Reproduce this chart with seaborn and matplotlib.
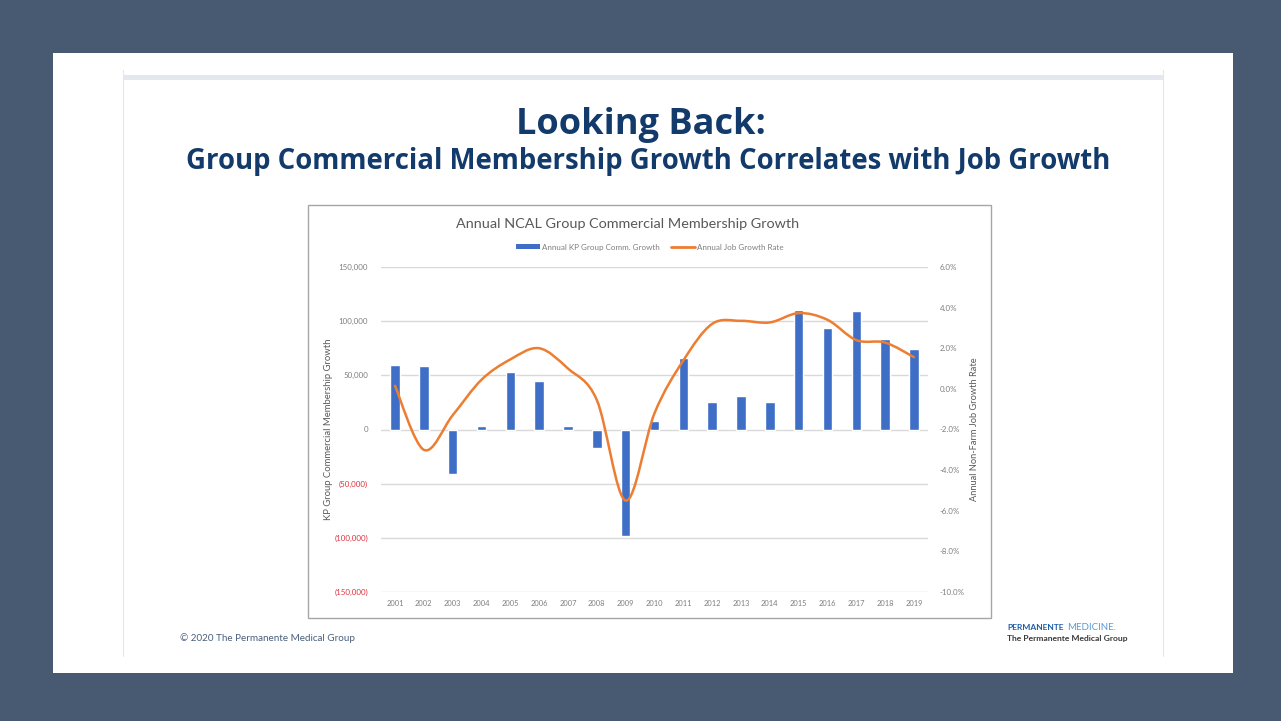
import numpy as np
import pandas as pd
import matplotlib
matplotlib.use("Agg")
import matplotlib.pyplot as plt
import matplotlib.patches as mpatches
import matplotlib.path as mpath
from matplotlib.lines import Line2D
import seaborn as sns

# ---------------- data ----------------
years = ["2001", "2002", "2003", "2004", "2005", "2006", "2007", "2008", "2009", "2010",
         "2011", "2012", "2013", "2014", "2015", "2016", "2017", "2018", "2019"]
membership_growth = [60000, 58500, -41000, 3500, 53000, 45000, 3500, -17000, -98000, 8000,
                     66000, 25800, 30700, 25000, 110000, 94000, 109000, 84000, 74500]
job_growth_rate = [0.15, -3.0, -1.3, 0.45, 1.45, 2.0, 1.0, -0.55, -5.5, -1.2,
                   1.4, 3.2, 3.35, 3.27, 3.73, 3.4, 2.4, 2.28, 1.56]
left_ticks = [150000, 100000, 50000, 0, -50000, -100000, -150000]
right_ticks = [6, 4, 2, 0, -2, -4, -6, -8, -10]

BAR_COLOR = "#3f6ec6"
LINE_COLOR = "#ed7d31"
NAVY = "#123a6b"

df = pd.DataFrame({"year": years, "growth": membership_growth, "rate": job_growth_rate})

sns.set_theme(style="white")
plt.rcParams["font.family"] = ["Lato", "DejaVu Sans"]

W, H = 1281, 721
fig = plt.figure(figsize=(W / 100, H / 100), dpi=100)
fig.patch.set_facecolor("#475a72")

def fx(px):
    return px / W

def fy(py):
    return 1 - py / H

# white slide
fig.patches.append(mpatches.Rectangle((fx(53), fy(673)), fx(1233) - fx(53), fy(53) - fy(673),
                                      transform=fig.transFigure, facecolor="white",
                                      edgecolor="none", zorder=0))
# top thin band and faint side lines
fig.patches.append(mpatches.Rectangle((fx(123), fy(80)), fx(1163) - fx(123), fy(75) - fy(80),
                                      transform=fig.transFigure, facecolor="#e4e7ee",
                                      edgecolor="none", zorder=1))
for xx in (123, 1163):
    fig.lines.append(Line2D([fx(xx), fx(xx)], [fy(70), fy(656)], transform=fig.transFigure,
                            color="#e6e6e6", lw=0.8, zorder=1))

# chart box
fig.patches.append(mpatches.Rectangle((fx(308), fy(618)), fx(991) - fx(308), fy(205) - fy(618),
                                      transform=fig.transFigure, facecolor="white",
                                      edgecolor="#a6a6a6", lw=1.0, zorder=1))

# titles
fig.text(fx(641), fy(125), "Looking Back:", ha="center", va="center", fontsize=26,
         fontweight="bold", color=NAVY, family=["Open Sans", "DejaVu Sans"])
fig.text(fx(648), fy(161), "Group Commercial Membership Growth Correlates with Job Growth",
         ha="center", va="center", fontsize=19.8, fontweight="bold", color=NAVY,
         family=["Open Sans", "DejaVu Sans"])

# axes
ax = fig.add_axes([fx(380.6), fy(592), fx(928.4) - fx(380.6), fy(267) - fy(592)])
ax.set_zorder(2)
ax.patch.set_alpha(0)
sns.barplot(data=df, x="year", y="growth", color=BAR_COLOR, width=0.33, ax=ax,
            saturation=1, zorder=3)
ax.set_xlim(-0.5, len(years) - 0.5)
ax.set_ylim(-150000, 150000)
ax.set_yticks(left_ticks)

def fmt_left(v):
    if v < 0:
        return "({:,})".format(int(-v))
    return "{:,}".format(int(v))

ax.set_yticklabels([fmt_left(v) for v in left_ticks])
for lab, v in zip(ax.get_yticklabels(), left_ticks):
    lab.set_color("#e0303a" if v < 0 else "#7f7f7f")
ax.yaxis.grid(True, color="#d9d9d9", lw=1.0, zorder=0)
ax.set_axisbelow(True)
for s in ax.spines.values():
    s.set_visible(False)
ax.tick_params(axis="y", length=0, labelsize=5.7, pad=9)
ax.tick_params(axis="x", length=0, labelsize=5.4, colors="#7f7f7f", pad=6)
ax.set_xlabel("")
ax.set_ylabel("KP Group Commercial Membership Growth", fontsize=6.8, color="#595959", labelpad=1)

ax2 = ax.twinx()
ax2.set_ylim(-10, 6)
ax2.set_yticks(right_ticks)
ax2.set_yticklabels(["{:.1f}%".format(v) for v in right_ticks])
for s in ax2.spines.values():
    s.set_visible(False)
ax2.tick_params(axis="y", length=0, labelsize=5.7, colors="#7f7f7f", pad=8)
ax2.set_ylabel("Annual Non-Farm Job Growth Rate", fontsize=6.7, color="#595959", labelpad=4)
ax2.grid(False)

# smoothed line (Catmull-Rom converted to cubic Bezier segments)
xs = np.arange(len(years), dtype=float)
ys = np.array(job_growth_rate, dtype=float)
pts = np.column_stack([xs, ys])
verts = [tuple(pts[0])]
codes = [mpath.Path.MOVETO]
n = len(pts)
for i in range(n - 1):
    p0 = pts[i - 1] if i > 0 else pts[i]
    p1 = pts[i]
    p2 = pts[i + 1]
    p3 = pts[i + 2] if i + 2 < n else pts[i + 1]
    c1 = p1 + (p2 - p0) / 6.0
    c2 = p2 - (p3 - p1) / 6.0
    verts += [tuple(c1), tuple(c2), tuple(p2)]
    codes += [mpath.Path.CURVE4] * 3
path = mpath.Path(verts, codes)
ax2.add_patch(mpatches.PathPatch(path, facecolor="none", edgecolor=LINE_COLOR, lw=1.8,
                                 capstyle="round", zorder=4))

# chart title & legend
fig.text(fx(628), fy(224), "Annual NCAL Group Commercial Membership Growth", ha="center",
         va="center", fontsize=10.4, color="#595959")
handles = [mpatches.Patch(facecolor=BAR_COLOR, edgecolor="none", label="Annual KP Group Comm. Growth"),
           Line2D([0], [0], color=LINE_COLOR, lw=2, label="Annual Job Growth Rate")]
leg = fig.legend(handles=handles, loc="center", bbox_to_anchor=(fx(650), fy(247)), ncol=2,
                 frameon=False, fontsize=5.8, labelcolor="#7f7f7f", handlelength=2.9,
                 handleheight=0.6, columnspacing=1.4, handletextpad=0.3)

# footer
fig.text(fx(180), fy(638), "\u00a9 2020 The Permanente Medical Group", ha="left", va="center",
         fontsize=7.1, color="#4a5f7a")
fig.text(fx(1007), fy(628), "PERMANENTE", ha="left", va="center", fontsize=6.1,
         fontweight="bold", color="#1f5fa8")
fig.text(fx(1067), fy(628), "MEDICINE.", ha="left", va="center", fontsize=7.0,
         color="#5b9bd5")
fig.text(fx(1007), fy(639), "The Permanente Medical Group", ha="left", va="center",
         fontsize=6.1, fontweight="bold", color="#3a3a3a")

fig.savefig("out.png", dpi=100, facecolor=fig.get_facecolor())
